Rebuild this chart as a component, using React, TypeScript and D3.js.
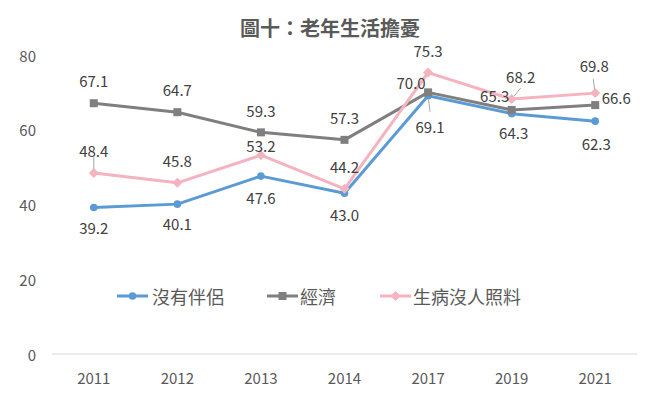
import React from "react";
import * as d3 from "d3";

const years = ["2011", "2012", "2013", "2014", "2017", "2019", "2021"];
const noPartner = [39.2, 40.1, 47.6, 43.0, 69.1, 64.3, 62.3];
const economy = [67.1, 64.7, 59.3, 57.3, 70.0, 65.3, 66.6];
const sickNoCare = [48.4, 45.8, 53.2, 44.2, 75.3, 68.2, 69.8];
const yTicks = [0, 20, 40, 60, 80];
const seriesNames = ["沒有伴侶", "經濟", "生病沒人照料"];
const title = "圖十：老年生活擔憂";

// label placement (dx, dy relative to point), styling only
const labelPlacement: Record<string, [number, number][]> = {
  blue: [[0, 20], [0, 19], [0, 21], [0, 21], [2, 31], [2, 19], [1, 22]],
  gray: [[0, -23], [0, -23], [0, -22], [0, -22], [-17, -10], [-17, -14], [21, -8]],
  pink: [[0, -23], [0, -22], [0, -10], [0, -22], [0, -22], [9, -23], [-1, -28]],
};
// leader lines: index -> start offset from label center
const leaders: Record<string, Record<number, [number, number]>> = {
  blue: { 4: [0, -15] },
  gray: {},
  pink: { 0: [0, 7], 5: [0, 12], 6: [-1, 14] },
};

const FONT = "'Noto Sans CJK TC', 'Noto Sans', sans-serif";

export default function App() {
  const W = 660, H = 394;
  const x = d3.scalePoint<string>().domain(years).range([52, 637]).padding(0.5);
  const y = d3.scaleLinear().domain([0, 80]).range([354, 55]);

  const series = [
    { key: "blue", name: seriesNames[0], values: noPartner, color: "#5B9BD5", marker: "circle" },
    { key: "gray", name: seriesNames[1], values: economy, color: "#7F7F7F", marker: "square" },
    { key: "pink", name: seriesNames[2], values: sickNoCare, color: "#F4B3BE", marker: "diamond" },
  ];

  const line = d3
    .line<number>()
    .x((_, i) => x(years[i]) as number)
    .y((d) => y(d));

  const marker = (type: string, cx: number, cy: number, color: string, k: string) => {
    if (type === "circle") return <circle key={k} cx={cx} cy={cy} r={3.8} fill={color} />;
    if (type === "square")
      return <rect key={k} x={cx - 4} y={cy - 4} width={8} height={8} fill={color} />;
    return (
      <path
        key={k}
        d={`M${cx},${cy - 5}L${cx + 5},${cy}L${cx},${cy + 5}L${cx - 5},${cy}Z`}
        fill={color}
      />
    );
  };

  const legendItems = [
    { lx: 117, tx: 152 },
    { lx: 267, tx: 300 },
    { lx: 380, tx: 413 },
  ];
  const legendY = 296;
  const NUM = 15;

  return (
    <svg
      width={W}
      height={H}
      style={{ position: "absolute", left: 0, top: 0, background: "#fff" }}
      fontFamily={FONT}
    >
      <rect width={W} height={H} fill="#fff" />
      <text
        x={330}
        y={27}
        textAnchor="middle"
        dominantBaseline="central"
        fontSize={20}
        fontWeight="bold"
        fill="#595959"
      >
        {title}
      </text>

      {yTicks.map((t) => (
        <text
          key={t}
          x={36}
          y={y(t)}
          textAnchor="end"
          dominantBaseline="central"
          fontSize={NUM}
          fill="#595959"
        >
          {t}
        </text>
      ))}
      <line x1={52} x2={637} y1={y(0)} y2={y(0)} stroke="#D9D9D9" strokeWidth={1} />
      {years.map((yr) => (
        <text
          key={yr}
          x={x(yr)}
          y={377}
          textAnchor="middle"
          dominantBaseline="central"
          fontSize={NUM}
          fill="#595959"
        >
          {yr}
        </text>
      ))}

      {series.map((s) => (
        <g key={s.key}>
          <path d={line(s.values) || ""} fill="none" stroke={s.color} strokeWidth={3} strokeLinejoin="round" />
          {s.values.map((v, i) => marker(s.marker, x(years[i]) as number, y(v), s.color, s.key + i))}
        </g>
      ))}

      {series.map((s) =>
        s.values.map((v, i) => {
          const px = x(years[i]) as number;
          const py = y(v);
          const [dx, dy] = labelPlacement[s.key][i];
          const lx = px + dx, ly = py + dy;
          const ld = leaders[s.key][i];
          let leader = null;
          if (ld) {
            const sx = lx + ld[0], sy = ly + ld[1];
            const vx = px - sx, vy = py - sy;
            const len = Math.hypot(vx, vy);
            const ex = px - (vx / len) * 4, ey = py - (vy / len) * 4;
            leader = <line x1={sx} y1={sy} x2={ex} y2={ey} stroke="#A6A6A6" strokeWidth={1} />;
          }
          return (
            <g key={s.key + "l" + i}>
              {leader}
              <text
                x={lx}
                y={ly}
                textAnchor="middle"
                dominantBaseline="central"
                fontSize={NUM}
                fill="#404040"
              >
                {v.toFixed(1)}
              </text>
            </g>
          );
        })
      )}

      {series.map((s, i) => {
        const it = legendItems[i];
        return (
          <g key={"lg" + s.key}>
            <line x1={it.lx} x2={it.lx + 31} y1={legendY} y2={legendY} stroke={s.color} strokeWidth={3} />
            {marker(s.marker, it.lx + 15.5, legendY, s.color, "lgm" + i)}
            <text x={it.tx} y={legendY} dominantBaseline="central" fontSize={18} fill="#595959">
              {s.name}
            </text>
          </g>
        );
      })}
    </svg>
  );
}
